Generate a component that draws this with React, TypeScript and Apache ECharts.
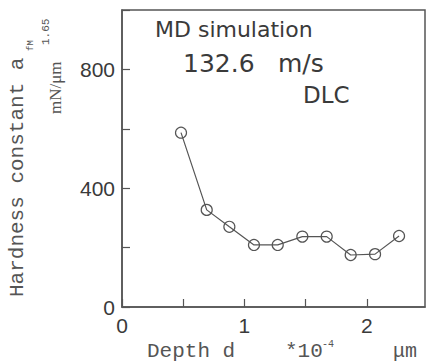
import React, { useEffect, useRef } from "react";
import * as echarts from "echarts";

const depth = [0.482, 0.692, 0.877, 1.078, 1.272, 1.473, 1.672, 1.868, 2.067, 2.263];
const hardness = [587, 327, 270, 209, 209, 237, 237, 175, 178, 239];
const yLabelsShown = [0, 400, 800];
const xLabelsShown = [0, 1, 2];

const INK = "#3a3a3a";
const AXIS = "#555";

export default function App() {
  const ref = useRef<HTMLDivElement>(null);
  useEffect(() => {
    if (!ref.current) return;
    const chart = echarts.init(ref.current, null, { renderer: "svg" });
    const mono = "Liberation Mono";
    const rot = Math.PI / 2;
    chart.setOption({
      animation: false,
      backgroundColor: "#fff",
      grid: {
        left: 122,
        right: 2,
        top: 10,
        bottom: 56,
        show: true,
        borderColor: AXIS,
        borderWidth: 1.5,
        backgroundColor: "transparent",
      },
      xAxis: {
        type: "value",
        min: 0,
        max: 2.475,
        interval: 0.5,
        axisLine: { show: true, lineStyle: { color: AXIS, width: 1.5 } },
        axisTick: { show: true, inside: true, length: 8, lineStyle: { color: AXIS, width: 1.2 } },
        splitLine: { show: false },
        axisLabel: {
          margin: 8,
          fontSize: 21,
          fontFamily: "Liberation Sans",
          color: INK,
          showMaxLabel: false,
          formatter: (v: number) => (xLabelsShown.includes(v) ? String(v) : ""),
        },
      },
      yAxis: {
        type: "value",
        min: 0,
        max: 1000,
        interval: 200,
        axisLine: { show: true, lineStyle: { color: AXIS, width: 1.5 } },
        axisTick: { show: true, inside: true, length: 8, lineStyle: { color: AXIS, width: 1.2 } },
        splitLine: { show: false },
        axisLabel: {
          margin: 7,
          fontSize: 21,
          fontFamily: "Liberation Sans",
          color: INK,
          formatter: (v: number) => (yLabelsShown.includes(v) ? String(v) : ""),
        },
      },
      series: [
        {
          type: "line",
          data: depth.map((d, i) => [d, hardness[i]]),
          symbol: "circle",
          symbolSize: 11,
          lineStyle: { color: "#555", width: 1.2 },
          itemStyle: { color: "rgba(255,255,255,0)", borderColor: "#555", borderWidth: 1.2 },
        },
      ],
      graphic: [
        { type: "text", x: 155, y: 29.5, style: { text: "MD simulation", font: "22px 'DejaVu Sans'", fill: INK, textVerticalAlign: "middle" } },
        { type: "text", x: 183, y: 63, style: { text: "132.6", font: "25px 'DejaVu Sans'", fill: INK, textVerticalAlign: "middle" } },
        { type: "text", x: 278, y: 63, style: { text: "m/s", font: "25px 'DejaVu Sans'", fill: INK, textVerticalAlign: "middle" } },
        { type: "text", x: 303, y: 95, style: { text: "DLC", font: "23px 'DejaVu Sans'", fill: INK, textVerticalAlign: "middle" } },
        // y-axis title
        { type: "text", x: 17.3, y: 297, rotation: rot, style: { text: "Hardness constant a", font: `21px '${mono}'`, fill: "#555", textAlign: "left", textVerticalAlign: "middle" } },
        { type: "text", x: 31, y: 51, rotation: rot, style: { text: "fM", font: `9px '${mono}'`, fill: "#555", textAlign: "left", textVerticalAlign: "middle" } },
        { type: "text", x: 55, y: 114, rotation: rot, style: { text: "mN/\u03bcm", font: "17px 'Liberation Serif'", fill: "#555", textAlign: "left", textVerticalAlign: "middle" } },
        { type: "text", x: 46, y: 45, rotation: rot, style: { text: "1.65", font: `11px '${mono}'`, fill: "#555", textAlign: "left", textVerticalAlign: "middle" } },
        // x-axis title
        { type: "text", x: 147, y: 351.3, style: { text: "Depth d", font: `21px '${mono}'`, fill: "#555", textVerticalAlign: "middle" } },
        { type: "text", x: 285, y: 351.3, style: { text: "*10", font: `21px '${mono}'`, fill: "#555", textVerticalAlign: "middle" } },
        { type: "text", x: 322, y: 344.5, style: { text: "-4", font: `10px '${mono}'`, fill: "#555", textVerticalAlign: "middle" } },
        { type: "text", x: 393, y: 351.3, style: { text: "\u03bcm", font: `20px '${mono}'`, fill: "#555", textVerticalAlign: "middle" } },
      ],
    });
    return () => chart.dispose();
  }, []);
  return (
    <div
      ref={ref}
      style={{ position: "absolute", left: 0, top: 0, width: 427, height: 363, background: "#fff" }}
    />
  );
}
